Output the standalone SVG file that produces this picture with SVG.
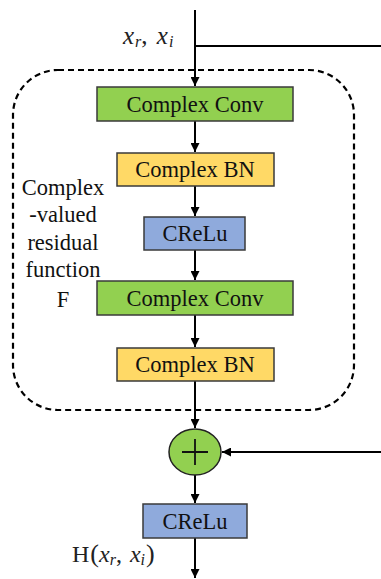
<svg xmlns="http://www.w3.org/2000/svg" width="381" height="579" viewBox="0 0 381 579">
<style>
.box{stroke:#3a3a3a;stroke-width:1.5}
.g{fill:#92D050}.y{fill:#FFD966}.b{fill:#8FAADC}
.t{font-family:"Liberation Serif","Times New Roman",serif;font-size:22.5px;fill:#111;text-anchor:middle}
.m{font-family:"Liberation Serif","Times New Roman",serif;fill:#222}
.ln{stroke:#000;stroke-width:2;fill:none}
</style>
<defs>
<marker id="ah" viewBox="0 0 10 10" refX="10" refY="5" markerWidth="4.5" markerHeight="4.5" orient="auto" markerUnits="strokeWidth">
<path d="M0,0 L10,5 L0,10 z" fill="#000"/>
</marker>
</defs>
<rect x="13" y="70" width="341" height="340" rx="45" ry="45" fill="none" stroke="#000" stroke-width="2.2" stroke-dasharray="6,4"/>
<g id="connectors">
<path class="ln" d="M195,10 V86" marker-end="url(#ah)"/>
<path class="ln" d="M195,46 H381"/>
<path class="ln" d="M195,121 V152" marker-end="url(#ah)"/>
<path class="ln" d="M195,186 V216" marker-end="url(#ah)"/>
<path class="ln" d="M195,250 V280" marker-end="url(#ah)"/>
<path class="ln" d="M195,315 V347" marker-end="url(#ah)"/>
<path class="ln" d="M195,381 V428" marker-end="url(#ah)"/>
<path class="ln" d="M381,452 H222" marker-end="url(#ah)"/>
<path class="ln" d="M195,475 V503" marker-end="url(#ah)"/>
<path class="ln" d="M195,538 V578" marker-end="url(#ah)"/>
</g>
<g id="conv1"><rect class="box g" x="97" y="87" width="196" height="34"/><text class="t" x="195" y="112">Complex Conv</text></g>
<g id="bn1"><rect class="box y" x="117" y="153" width="157" height="33"/><text class="t" x="195" y="177">Complex BN</text></g>
<g id="crelu1"><rect class="box b" x="144" y="217" width="101" height="33"/><text class="t" x="195" y="241">CReLu</text></g>
<g id="conv2"><rect class="box g" x="97" y="281" width="196" height="34"/><text class="t" x="195" y="306">Complex Conv</text></g>
<g id="bn2"><rect class="box y" x="117" y="348" width="157" height="33"/><text class="t" x="195" y="372">Complex BN</text></g>
<g id="sum"><ellipse cx="195" cy="452" rx="26" ry="23" fill="#92D050" stroke="#222" stroke-width="1.5"/><path d="M182,452 H208 M195,439 V465" stroke="#111" stroke-width="1.8"/></g>
<g id="crelu2"><rect class="box b" x="143" y="504" width="104" height="34"/><text class="t" x="195" y="529">CReLu</text></g>
<g id="label-f">
<text class="t" x="63" y="195">Complex</text>
<text class="t" x="63" y="222">-valued</text>
<text class="t" x="63" y="250">residual</text>
<text class="t" x="63" y="277">function</text>
<text class="t" x="63" y="307">F</text>
</g>
<text class="m" x="123" y="44" font-size="25"><tspan font-style="italic">x</tspan><tspan font-style="italic" font-size="16" dy="3" dx="1">r</tspan><tspan dy="-3">, </tspan><tspan font-style="italic" dx="3">x</tspan><tspan font-style="italic" font-size="16" dy="3" dx="1">i</tspan></text>
<text class="m" x="72" y="562" font-size="24">H<tspan font-size="26" dx="1">(</tspan><tspan font-style="italic">x</tspan><tspan font-style="italic" font-size="16" dy="3">r</tspan><tspan dy="-3">, </tspan><tspan font-style="italic" dx="2">x</tspan><tspan font-style="italic" font-size="16" dy="3">i</tspan><tspan dy="-3" font-size="26" dx="1">)</tspan></text>
</svg>
